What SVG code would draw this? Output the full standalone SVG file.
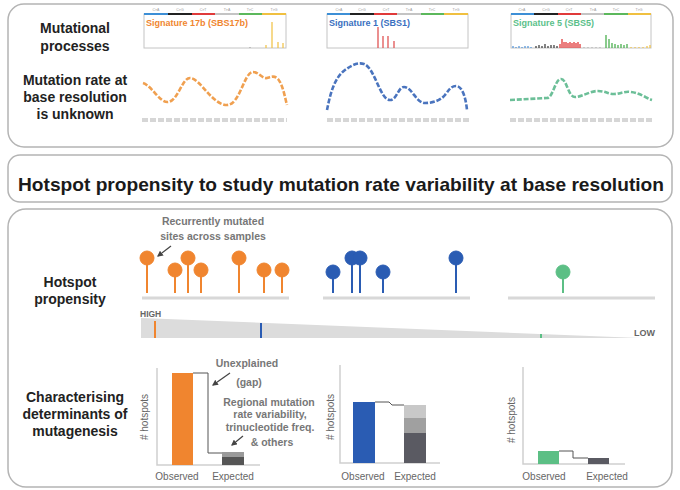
<svg xmlns="http://www.w3.org/2000/svg" width="680" height="490" viewBox="0 0 680 490">
<style>
.panel{fill:#fff;stroke:#b4b4b4;stroke-width:1.5}
.lab{font-family:"Liberation Sans",Arial,sans-serif;font-weight:bold;font-size:14px;fill:#222;text-anchor:middle}
.note{font-family:"Liberation Sans",Arial,sans-serif;font-weight:bold;font-size:10.5px;fill:#777;text-anchor:middle}
.axl{font-family:"Liberation Sans",Arial,sans-serif;font-size:10px;fill:#666;text-anchor:middle}
.sig{font-family:"Liberation Sans",Arial,sans-serif;font-weight:bold;font-size:9px}
.tiny{font-family:"Liberation Sans",Arial,sans-serif;font-size:3.5px;fill:#999;text-anchor:middle}
.sbox{fill:#fff;stroke:#c4c4c4;stroke-width:1}
.base{stroke:#d6d6d6;stroke-width:4;stroke-dasharray:6 2;fill:none}
.curve{fill:none;stroke-width:2.6;stroke-dasharray:5 1.8;stroke-linecap:butt}
.gline{stroke:#d8d8d8;stroke-width:3}
.axis{stroke:#cfcfcf;stroke-width:1.5;fill:none}
.step{stroke:#555;stroke-width:1;fill:none}
.arrow{stroke:#444;stroke-width:1.2;fill:none;marker-end:url(#ah)}
.o{fill:#f0852f;stroke:#f0852f}
.b{fill:#2a5cb3;stroke:#2a5cb3}
.g{fill:#5cbf85;stroke:#5cbf85}
.stem{stroke-width:2;fill:none}
</style>
<defs>
<marker id="ah" viewBox="0 0 10 10" refX="8" refY="5" markerWidth="5" markerHeight="5" orient="auto">
<path d="M0,0 L10,5 L0,10 z" fill="#444"/>
</marker>
</defs>
<rect width="680" height="490" fill="#fff"/>

<g id="panel-top">
<rect class="panel" x="8" y="4" width="665" height="143" rx="16"/>
<text class="lab" x="75" y="33">Mutational</text>
<text class="lab" x="75" y="51">processes</text>
<text class="lab" x="75" y="85">Mutation rate at</text>
<text class="lab" x="75" y="102">base resolution</text>
<text class="lab" x="75" y="119">is unknown</text>
</g>

<g id="sig17b">
<rect class="sbox" x="144" y="14" width="142" height="34"/>
<line x1="144" y1="14" x2="168" y2="14" stroke="#3d8fd6" stroke-width="2"/>
<line x1="168" y1="14" x2="192" y2="14" stroke="#222" stroke-width="2"/>
<line x1="192" y1="14" x2="215" y2="14" stroke="#e03a3a" stroke-width="2"/>
<line x1="215" y1="14" x2="239" y2="14" stroke="#c4c4c4" stroke-width="2"/>
<line x1="239" y1="14" x2="262" y2="14" stroke="#5cb85c" stroke-width="2"/>
<line x1="262" y1="14" x2="286" y2="14" stroke="#f0c040" stroke-width="2"/>
<text class="tiny" x="156" y="11">C&gt;A</text><text class="tiny" x="180" y="11">C&gt;G</text><text class="tiny" x="203" y="11">C&gt;T</text><text class="tiny" x="227" y="11">T&gt;A</text><text class="tiny" x="250" y="11">T&gt;C</text><text class="tiny" x="274" y="11">T&gt;G</text>
<text class="sig" x="146" y="26" fill="#f0852f">Signature 17b (SBS17b)</text>
<path d="M272,48V22M266,48v-3M278,48v-6M283,48v-5" stroke="#f0c040" stroke-width="1.2"/>
<path d="M250,48v-1" stroke="#999" stroke-width="1"/>
</g>

<g id="sig1">
<rect class="sbox" x="327" y="14" width="141" height="34"/>
<line x1="327" y1="14" x2="350" y2="14" stroke="#3d8fd6" stroke-width="2"/>
<line x1="350" y1="14" x2="374" y2="14" stroke="#222" stroke-width="2"/>
<line x1="374" y1="14" x2="397" y2="14" stroke="#e03a3a" stroke-width="2"/>
<line x1="397" y1="14" x2="421" y2="14" stroke="#c4c4c4" stroke-width="2"/>
<line x1="421" y1="14" x2="444" y2="14" stroke="#5cb85c" stroke-width="2"/>
<line x1="444" y1="14" x2="468" y2="14" stroke="#f0c040" stroke-width="2"/>
<text class="tiny" x="339" y="11">C&gt;A</text><text class="tiny" x="362" y="11">C&gt;G</text><text class="tiny" x="386" y="11">C&gt;T</text><text class="tiny" x="409" y="11">T&gt;A</text><text class="tiny" x="432" y="11">T&gt;C</text><text class="tiny" x="456" y="11">T&gt;G</text>
<text class="sig" x="329" y="26" fill="#3a6fc0">Signature 1 (SBS1)</text>
<path d="M378,48V27M383,48v-12M388,48v-12M394,48v-7" stroke="#e05555" stroke-width="1.3"/>
</g>

<g id="sig5">
<rect class="sbox" x="511" y="14" width="140" height="34"/>
<line x1="511" y1="14" x2="534" y2="14" stroke="#3d8fd6" stroke-width="2"/>
<line x1="534" y1="14" x2="558" y2="14" stroke="#222" stroke-width="2"/>
<line x1="558" y1="14" x2="581" y2="14" stroke="#e03a3a" stroke-width="2"/>
<line x1="581" y1="14" x2="604" y2="14" stroke="#c4c4c4" stroke-width="2"/>
<line x1="604" y1="14" x2="628" y2="14" stroke="#5cb85c" stroke-width="2"/>
<line x1="628" y1="14" x2="651" y2="14" stroke="#f0c040" stroke-width="2"/>
<text class="tiny" x="522" y="11">C&gt;A</text><text class="tiny" x="546" y="11">C&gt;G</text><text class="tiny" x="569" y="11">C&gt;T</text><text class="tiny" x="593" y="11">T&gt;A</text><text class="tiny" x="616" y="11">T&gt;C</text><text class="tiny" x="639" y="11">T&gt;G</text>
<text class="sig" x="513" y="26" fill="#5cbf8a">Signature 5 (SBS5)</text>
<path d="M513,48v-2M516,48v-1M519,48v-2M522,48v-1M525,48v-2M528,48v-2M531,48v-1" stroke="#4a8fd8" stroke-width="1.2"/>
<path d="M536,48v-2M539,48v-3M542,48v-2M545,48v-4M548,48v-2M551,48v-3M554,48v-3M557,48v-2" stroke="#333" stroke-width="1.2"/>
<path d="M560,48v-4M562,48v-9M564,48v-6M566,48v-6M568,48v-5M570,48v-6M572,48v-5M574,48v-6M576,48v-5M578,48v-6M580,48v-4" stroke="#e03a3a" stroke-width="1.3"/>
<path d="M584,48v-1M588,48v-1M592,48v-1M596,48v-1M600,48v-1" stroke="#aaa" stroke-width="1"/>
<path d="M606,48v-13M609,48v-9M612,48v-5M615,48v-4M618,48v-3M621,48v-4M624,48v-3M627,48v-4" stroke="#4cb050" stroke-width="1.3"/>
<path d="M631,48v-1M635,48v-1M639,48v-1M643,48v-1M647,48v-2M650,48v-3" stroke="#f0c040" stroke-width="1.2"/>
</g>

<g id="rate-curves">
<path class="curve" stroke="#f0a050" d="M143,83 C152,86 160,103 168,102 C178,101 182,78 190,78 C200,78 212,105 227,105 C240,105 244,72 253,72 C259,72 262,79 267,78 C271,77 274,75 278,79 C283,85 285,98 287,105"/>
<path class="curve" stroke="#4a74be" d="M327,110 C330,95 334,78 345,70 C352,65 358,62 364,64 C375,68 380,100 390,100 C397,100 398,87 404,87 C412,87 416,103 425,103 C432,103 440,101 445,95 C449,90 451,86 456,86 C463,86 466,100 467,110"/>
<path class="curve" stroke="#6cbf98" d="M510,100 L547,98 C553,98 555,79 561,79 C567,79 568,97 575,97 C582,97 590,91 598,91 C605,91 608,94 614,94 C620,94 624,91 631,92 C640,93 646,98 652,100"/>
<line class="base" x1="142" y1="120" x2="287" y2="120"/>
<line class="base" x1="327" y1="120" x2="469" y2="120"/>
<line class="base" x1="510" y1="120" x2="653" y2="120"/>
</g>

<g id="title">
<rect class="panel" x="8" y="155" width="664" height="47" rx="12"/>
<text x="341" y="191" font-family="Liberation Sans, Arial, sans-serif" font-weight="bold" font-size="19" fill="#1a1a1a" text-anchor="middle" textLength="646" lengthAdjust="spacingAndGlyphs">Hotspot propensity to study mutation rate variability at base resolution</text>
</g>

<g id="panel-bottom">
<rect class="panel" x="8" y="209" width="664" height="278" rx="18"/>
<text class="lab" x="70" y="287">Hotspot</text>
<text class="lab" x="70" y="304">propensity</text>
<text class="lab" x="75" y="402">Characterising</text>
<text class="lab" x="75" y="419">determinants of</text>
<text class="lab" x="75" y="436">mutagenesis</text>
</g>

<g id="lollipops-orange">
<text class="note" x="213" y="225">Recurrently mutated</text>
<text class="note" x="213" y="240">sites across samples</text>
<line class="gline" x1="142" y1="298" x2="289" y2="298"/>
<g class="o">
<path class="stem" d="M147,258V293M175,270V293M188,258V293M201,270V293M239,258V293M264,270V293M282,270V293"/>
<circle cx="147" cy="258" r="7"/><circle cx="175" cy="270" r="7"/><circle cx="188" cy="258" r="7"/><circle cx="201" cy="270" r="7"/><circle cx="239" cy="258" r="7"/><circle cx="264" cy="270" r="7"/><circle cx="282" cy="270" r="7"/>
</g>
</g>

<g id="lollipops-blue">
<line class="gline" x1="323" y1="298" x2="470" y2="298"/>
<g class="b">
<path class="stem" d="M333,272V293M352,258V293M360,258V293M383,272V293M456,258V293"/>
<circle cx="333" cy="272" r="7"/><circle cx="352" cy="258" r="7"/><circle cx="360" cy="258" r="7"/><circle cx="383" cy="272" r="7"/><circle cx="456" cy="258" r="7"/>
</g>
</g>

<g id="lollipops-green">
<line class="gline" x1="508" y1="298" x2="655" y2="298"/>
<g class="g">
<path class="stem" d="M563,272V293"/>
<circle cx="563" cy="272" r="7"/>
</g>
</g>

<g id="propensity-scale">
<text x="140" y="317" font-family="Liberation Sans, Arial, sans-serif" font-weight="bold" font-size="8.5" fill="#666">HIGH</text>
<polygon points="141,318 640,338 141,338" fill="#dcdcdc"/>
<line x1="155" y1="321" x2="155" y2="338" stroke="#f0852f" stroke-width="2"/>
<line x1="261" y1="323" x2="261" y2="338" stroke="#2a5cb3" stroke-width="2"/>
<line x1="541" y1="334" x2="541" y2="338" stroke="#5cbf85" stroke-width="2"/>
<text x="655" y="336" font-family="Liberation Sans, Arial, sans-serif" font-weight="bold" font-size="9" fill="#666" text-anchor="end">LOW</text>
</g>

<g id="chart-orange">
<path class="axis" d="M157,368V465H260"/>
<text class="axl" transform="translate(148,417) rotate(-90)" font-size="9">#  hotspots</text>
<rect x="172" y="373" width="21" height="92" fill="#f0852f"/>
<path class="step" d="M193,373H208V453H222"/>
<rect x="222" y="452" width="22" height="5" fill="#9a9a9a"/>
<rect x="222" y="457" width="22" height="8" fill="#555"/>
<text class="axl" x="177" y="480">Observed</text>
<text class="axl" x="233" y="480">Expected</text>
<text class="note" x="247" y="367">Unexplained</text>
<text class="note" x="249" y="386">(gap)</text>
<text class="note" x="269" y="406">Regional mutation</text>
<text class="note" x="270" y="418">rate variability,</text>
<text class="note" x="270" y="431">trinucleotide freq.</text>
<text class="note" x="272" y="446">&amp; others</text>
</g>

<g id="chart-blue">
<path class="axis" d="M340,365V463H440"/>
<text class="axl" transform="translate(334,417) rotate(-90)" font-size="9">#  hotspots</text>
<rect x="353" y="402" width="22" height="61" fill="#2a5cb3"/>
<path class="step" d="M375,402H389L392,405H404"/>
<rect x="404" y="405" width="22" height="13" fill="#c8c8c8"/>
<rect x="404" y="418" width="22" height="15" fill="#a0a0a0"/>
<rect x="404" y="433" width="22" height="30" fill="#5a5a62"/>
<text class="axl" x="363" y="480">Observed</text>
<text class="axl" x="415" y="480">Expected</text>
</g>

<g id="chart-green">
<path class="axis" d="M523,367V464H625"/>
<text class="axl" transform="translate(515,420) rotate(-90)" font-size="9">#  hotspots</text>
<rect x="538" y="451" width="21" height="13" fill="#5cbf85"/>
<path class="step" d="M559,451H573V458H588"/>
<rect x="588" y="458" width="21" height="6" fill="#5a5a62"/>
<text class="axl" x="544" y="480">Observed</text>
<text class="axl" x="607" y="480">Expected</text>
</g>

<g id="connectors">
<line class="arrow" x1="171" y1="246" x2="158" y2="256"/>
<line class="arrow" x1="230" y1="373" x2="213" y2="385"/>
<line class="arrow" x1="243" y1="436" x2="232" y2="445"/>
</g>
</svg>
